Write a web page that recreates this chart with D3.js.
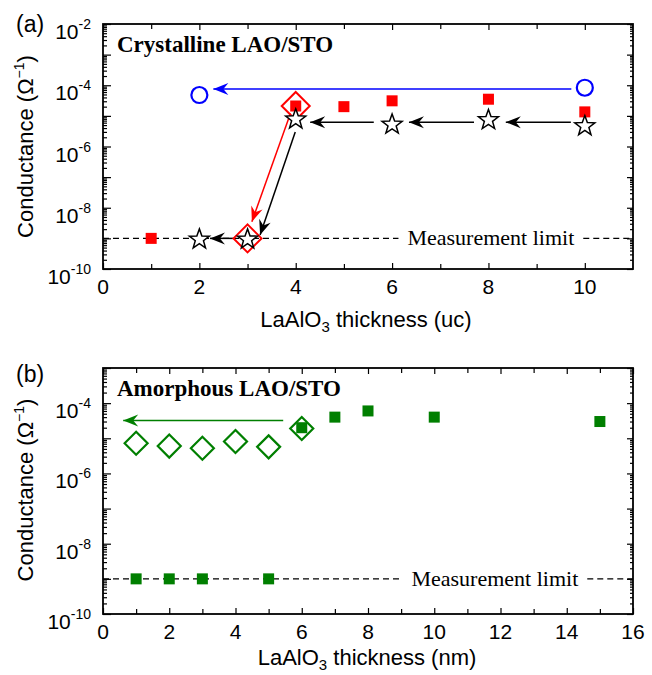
<!DOCTYPE html>
<html><head><meta charset="utf-8">
<script src="https://cdn.jsdelivr.net/npm/d3@7/dist/d3.min.js"></script>
<style>body{margin:0;background:#fff}svg{display:block}</style>
</head><body>
<svg id="c" width="652" height="675"></svg>
<script>
// ---------- Data: panel (a) crystalline ----------
const aXTicks = [0, 2, 4, 6, 8, 10];
const aYTickExps = [-2, -4, -6, -8, -10];
const aRedSquaresX = [1, 4, 5, 6, 8, 10];
const aRedSquaresY = [1e-9, 2.1e-5, 2.0e-5, 3.1e-5, 3.5e-5, 1.35e-5];
const aBlueCirclesX = [2, 10];
const aBlueCirclesY = [4.8e-5, 8.3e-5];
const aStarsX = [2, 3, 4, 6, 8, 10];
const aStarsY = [1e-9, 1e-9, 8.3e-6, 5.6e-6, 7.9e-6, 5.0e-6];
const aRedDiamondsX = [3, 4];
const aRedDiamondsY = [1e-9, 2.1e-5];
// arrows: [x1, y1, x2, y2, colour]
const aArrows = [
  [9.72, 7.6e-5, 2.29, 7.6e-5, "blue"],
  [9.71, 6.2e-6, 8.36, 6.2e-6, "black"],
  [7.70, 6.2e-6, 6.35, 6.2e-6, "black"],
  [5.62, 6.2e-6, 4.30, 6.2e-6, "black"],
  [2.70, 1e-9, 2.22, 1e-9, "black"],
  [3.99, 3.0e-6, 3.26, 1.3e-9, "black"],
  [3.89, 1.2e-5, 3.09, 3.5e-9, "red"]
];
// ---------- Data: panel (b) amorphous ----------
const bXTicks = [0, 2, 4, 6, 8, 10, 12, 14, 16];
const bYTickExps = [-4, -6, -8, -10];
const bGreenSquaresX = [1, 2, 3, 5, 6, 7, 8, 10, 15];
const bGreenSquaresY = [1e-9, 1e-9, 1e-9, 1e-9, 2.0e-5, 4.0e-5, 6.0e-5, 4.0e-5, 3.0e-5];
const bGreenDiamondsX = [1, 2, 3, 4, 5, 6];
const bGreenDiamondsY = [7.2e-6, 6.0e-6, 5.2e-6, 8.1e-6, 5.7e-6, 1.9e-5];
const bArrows = [[5.44, 3.2e-5, 0.61, 3.2e-5, "green"]];
const measLimit = 1e-9;

const GREEN = "#007f00";
const colours = {blue: "#0000ff", black: "#000", red: "#ff0000", green: GREEN};

const svg = d3.select("#c");
const defs = svg.append("defs");
Object.entries(colours).forEach(([k, c]) => {
  defs.append("marker").attr("id", "ah-" + k)
    .attr("viewBox", "-16 -7 18 14").attr("refX", 0).attr("refY", 0)
    .attr("markerWidth", 18).attr("markerHeight", 14)
    .attr("markerUnits", "userSpaceOnUse").attr("orient", "auto")
    .append("path").attr("d", "M0,0 L-15,-6 L-10,0 L-15,6 Z").attr("fill", c);
});

function starPath(cx, cy, R, r) {
  const p = d3.path();
  for (let i = 0; i < 10; i++) {
    const ang = -Math.PI / 2 + i * Math.PI / 5;
    const rad = i % 2 ? r : R;
    const x = cx + rad * Math.cos(ang), y = cy + rad * Math.sin(ang);
    i ? p.lineTo(x, y) : p.moveTo(x, y);
  }
  p.closePath();
  return p.toString();
}
function diamondPath(cx, cy, h) {
  return `M${cx},${cy - h}L${cx + h},${cy}L${cx},${cy + h}L${cx - h},${cy}Z`;
}

function panel(cfg) {
  const g = svg.append("g");
  const x = d3.scaleLinear().domain(cfg.xDomain).range([cfg.left, cfg.right]);
  const y = d3.scaleLog().domain(cfg.yDomain).range([cfg.bottom, cfg.top]);
  const W = cfg.right - cfg.left, H = cfg.bottom - cfg.top;

  const minors = [];
  const e0 = Math.round(Math.log10(cfg.yDomain[0])), e1 = Math.round(Math.log10(cfg.yDomain[1]));
  for (let e = e0; e < e1; e++) for (let m = 2; m <= 9; m++) minors.push(m * Math.pow(10, e));
  const majorsY = d3.range(e0, e1 + 1).map(e => Math.pow(10, e));
  const xMinor = d3.range(cfg.xDomain[0] + 1, cfg.xDomain[1], 2);
  const xMajor = d3.range(cfg.xDomain[0], cfg.xDomain[1] + 0.001, 2);

  const axStyle = s => s.call(a => a.select(".domain").remove())
      .call(a => a.selectAll("line").attr("stroke", "#000").attr("stroke-width", 1.2))
      .call(a => a.selectAll("text").remove());
  g.append("g").attr("transform", `translate(${cfg.left},0)`)
    .call(d3.axisLeft(y).tickValues(majorsY).tickSize(-8)).call(axStyle);
  g.append("g").attr("transform", `translate(${cfg.left},0)`)
    .call(d3.axisLeft(y).tickValues(minors).tickSize(-4)).call(axStyle);
  g.append("g").attr("transform", `translate(${cfg.right},0)`)
    .call(d3.axisRight(y).tickValues(majorsY).tickSize(-6)).call(axStyle);
  g.append("g").attr("transform", `translate(${cfg.right},0)`)
    .call(d3.axisRight(y).tickValues(minors).tickSize(-3)).call(axStyle);
  g.append("g").attr("transform", `translate(0,${cfg.bottom})`)
    .call(d3.axisBottom(x).tickValues(xMajor).tickSize(-6)).call(axStyle);
  g.append("g").attr("transform", `translate(0,${cfg.bottom})`)
    .call(d3.axisBottom(x).tickValues(xMinor).tickSize(-5)).call(axStyle);
  g.append("g").attr("transform", `translate(0,${cfg.top})`)
    .call(d3.axisTop(x).tickValues(xMajor).tickSize(-6)).call(axStyle);
  g.append("g").attr("transform", `translate(0,${cfg.top})`)
    .call(d3.axisTop(x).tickValues(xMinor).tickSize(-5)).call(axStyle);

  g.append("rect").attr("x", cfg.left).attr("y", cfg.top).attr("width", W).attr("height", H)
    .attr("fill", "none").attr("stroke", "#000").attr("stroke-width", 1.8);

  const sans = "'Liberation Sans', Arial, Helvetica, sans-serif";
  const serif = "'Liberation Serif', 'Times New Roman', serif";
  cfg.xTicks.forEach(v => {
    g.append("text").attr("x", x(v)).attr("y", cfg.bottom + 25).attr("text-anchor", "middle")
      .attr("font-family", sans).attr("font-size", 21).text(v);
  });
  cfg.yTickExps.forEach(e => {
    const t = g.append("text").attr("x", cfg.left - 12).attr("y", y(Math.pow(10, e)) + 15)
      .attr("text-anchor", "end").attr("font-family", sans).attr("font-size", 21);
    t.append("tspan").text("10");
    t.append("tspan").attr("dy", -10).attr("font-size", 14).text(e);
  });
  const yl = g.append("text").attr("transform", `translate(33,${(cfg.top + cfg.bottom) / 2 + cfg.ylOff}) rotate(-90)`)
    .attr("text-anchor", "middle").attr("font-family", sans).attr("font-size", 22);
  yl.append("tspan").text("Conductance (Ω");
  yl.append("tspan").attr("dy", -9).attr("font-size", 14).text("−1");
  yl.append("tspan").attr("dy", 9).text(")");
  const xl = g.append("text").attr("x", cfg.xlX).attr("y", cfg.bottom + cfg.xlOff)
    .attr("text-anchor", "middle").attr("font-family", sans).attr("font-size", 22);
  xl.append("tspan").text("LaAlO");
  xl.append("tspan").attr("dy", 5).attr("font-size", 15).text("3");
  xl.append("tspan").attr("dy", -5).text(" thickness (" + cfg.unit + ")");
  g.append("text").attr("x", 16).attr("y", cfg.top + cfg.plOff).attr("font-family", sans)
    .attr("font-size", 23).text(cfg.panelLabel);
  g.append("text").attr("x", cfg.left + 14).attr("y", cfg.top + 28)
    .attr("font-family", serif).attr("font-weight", "bold")
    .attr("font-size", 23).text(cfg.title);

  const my = y(measLimit);
  const mt = g.append("text").attr("x", x(cfg.mlX)).attr("y", my + 7).attr("text-anchor", "middle")
    .attr("font-family", serif).attr("font-size", 22)
    .text("Measurement limit");
  const tw = mt.node().getComputedTextLength();
  const gap = 9;
  [[cfg.left, x(cfg.mlX) - tw / 2 - gap], [x(cfg.mlX) + tw / 2 + gap, cfg.right]].forEach(([a, b]) => {
    g.insert("line", "text").attr("x1", a).attr("x2", b).attr("y1", my).attr("y2", my)
      .attr("stroke", "#000").attr("stroke-width", 1.3).attr("stroke-dasharray", "6,4");
  });
  return {g, x, y};
}

// ---------- Panel (a) ----------
const A = panel({left: 103, right: 633, top: 24, bottom: 269, xDomain: [0, 11], yDomain: [1e-10, 1e-2],
  xTicks: aXTicks, yTickExps: aYTickExps, unit: "uc", panelLabel: "(a)", plOff: 8,
  title: "Crystalline LAO/STO", mlX: 8.05, ylOff: 0, xlX: 366, xlOff: 58});
{
  const {g, x, y} = A;
  aArrows.forEach(([x1, y1, x2, y2, c]) => {
    g.append("line").attr("x1", x(x1)).attr("y1", y(y1)).attr("x2", x(x2)).attr("y2", y(y2))
      .attr("stroke", colours[c]).attr("stroke-width", 1.5).attr("marker-end", `url(#ah-${c})`);
  });
  g.selectAll(".rd").data(d3.zip(aRedDiamondsX, aRedDiamondsY)).join("path")
    .attr("d", d => diamondPath(x(d[0]), y(d[1]), 14)).attr("fill", "none")
    .attr("stroke", "#ff0000").attr("stroke-width", 2);
  g.selectAll(".rs").data(d3.zip(aRedSquaresX, aRedSquaresY)).join("rect")
    .attr("x", d => x(d[0]) - 5.5).attr("y", d => y(d[1]) - 5.5).attr("width", 11).attr("height", 11)
    .attr("fill", "#ff0000");
  g.selectAll(".bc").data(d3.zip(aBlueCirclesX, aBlueCirclesY)).join("circle")
    .attr("cx", d => x(d[0])).attr("cy", d => y(d[1])).attr("r", 8)
    .attr("fill", "#fff").attr("stroke", "#0000ff").attr("stroke-width", 2.2);
  g.selectAll(".st").data(d3.zip(aStarsX, aStarsY)).join("path")
    .attr("d", d => starPath(x(d[0]), y(d[1]) + 1, 10.5, 4.3)).attr("fill", "#fff")
    .attr("stroke", "#000").attr("stroke-width", 1.5).attr("stroke-linejoin", "miter");
}

// ---------- Panel (b) ----------
const B = panel({left: 103, right: 633, top: 368, bottom: 614, xDomain: [0, 16], yDomain: [1e-10, 1e-3],
  xTicks: bXTicks, yTickExps: bYTickExps, unit: "nm", panelLabel: "(b)", plOff: 14,
  title: "Amorphous LAO/STO", mlX: 11.83, ylOff: -1, xlX: 367, xlOff: 51});
{
  const {g, x, y} = B;
  bArrows.forEach(([x1, y1, x2, y2, c]) => {
    g.append("line").attr("x1", x(x1)).attr("y1", y(y1)).attr("x2", x(x2)).attr("y2", y(y2))
      .attr("stroke", colours[c]).attr("stroke-width", 1.5).attr("marker-end", `url(#ah-${c})`);
  });
  g.selectAll(".gd").data(d3.zip(bGreenDiamondsX, bGreenDiamondsY)).join("path")
    .attr("d", d => diamondPath(x(d[0]), y(d[1]), 11.5)).attr("fill", "none")
    .attr("stroke", GREEN).attr("stroke-width", 2.2);
  g.selectAll(".gs").data(d3.zip(bGreenSquaresX, bGreenSquaresY)).join("rect")
    .attr("x", d => x(d[0]) - 5.5).attr("y", d => y(d[1]) - 5.5).attr("width", 11).attr("height", 11)
    .attr("fill", GREEN);
}
</script>
</body></html>
